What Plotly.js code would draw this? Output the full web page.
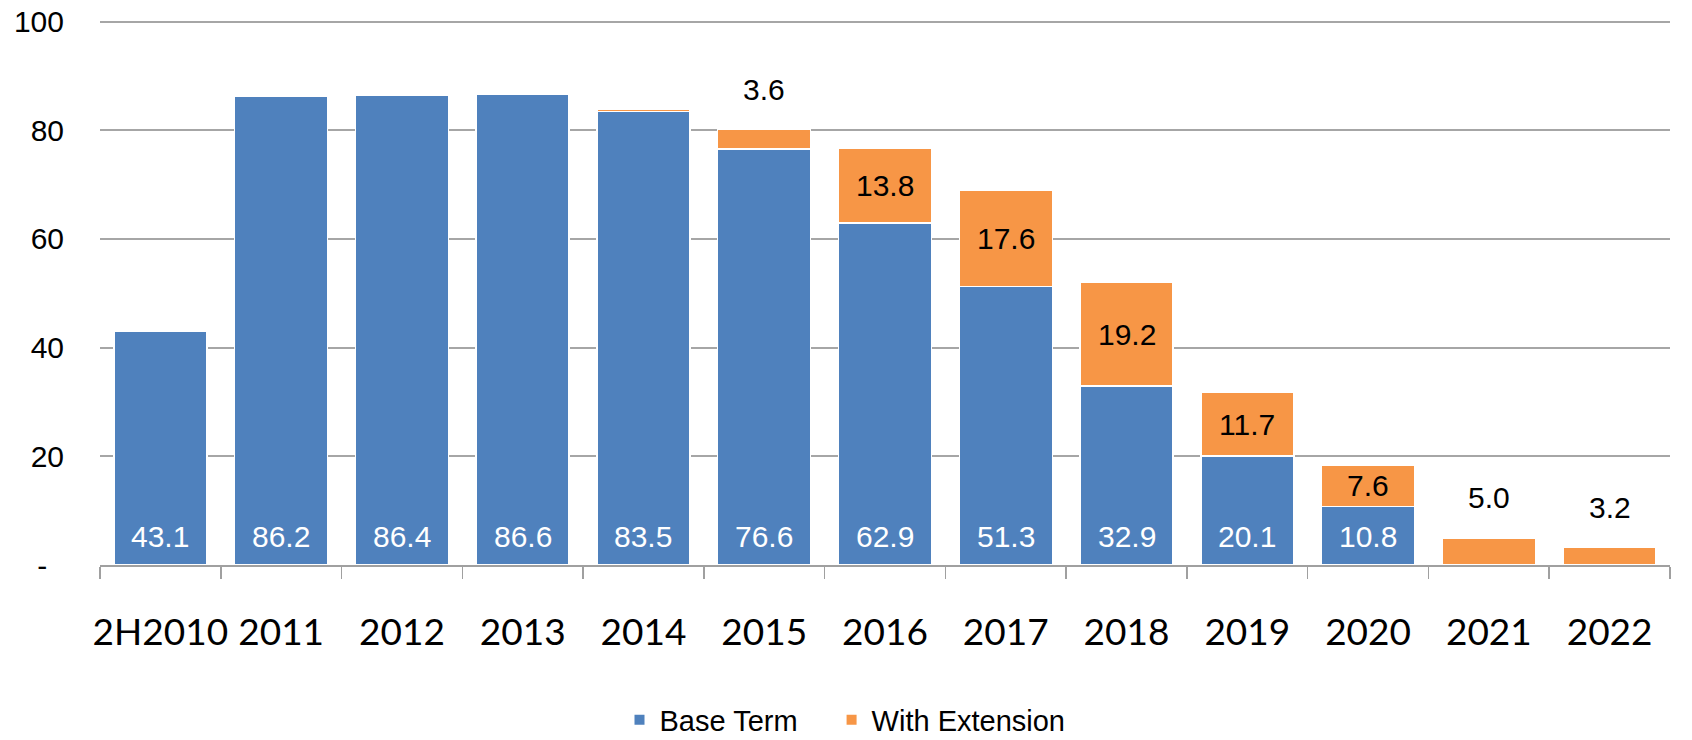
<!DOCTYPE html>
<html>
<head>
<meta charset="utf-8">
<script src="https://cdn.plot.ly/plotly-3.0.1.min.js"></script>
<style>html,body{margin:0;padding:0;background:#fff;}#chart{width:1692px;height:740px;}</style>
</head>
<body>
<div id="chart"></div>
<script>
const categories = ['2H2010','2011','2012','2013','2014','2015','2016','2017','2018','2019','2020','2021','2022'];
const baseTerm = [43.1, 86.2, 86.4, 86.6, 83.5, 76.6, 62.9, 51.3, 32.9, 20.1, 10.8, 0, 0];
const withExtension = [0, 0, 0, 0, 0.3, 3.6, 13.8, 17.6, 19.2, 11.7, 7.6, 5.0, 3.2];
const yTickVals = [0, 20, 40, 60, 80, 100];
const yTickText = ['-\u2007', '20', '40', '60', '80', '100'];
const seriesNames = ['Base Term', 'With Extension'];

const BLUE = '#4F81BD', ORANGE = '#F79646';
const labelFont = {family: 'Liberation Sans, Arial, sans-serif', size: 30};

const traces = [
  {type: 'bar', name: seriesNames[0] + '\u2003', x: categories, y: baseTerm,
   marker: {color: BLUE, line: {color: '#ffffff', width: 1.5}}, hoverinfo: 'x+y'},
  {type: 'bar', name: seriesNames[1], x: categories, y: withExtension,
   marker: {color: ORANGE, line: {color: '#ffffff', width: 1.5}}, hoverinfo: 'x+y'}
];

const annotations = [];
categories.forEach((c, i) => {
  if (baseTerm[i] > 0) {
    annotations.push({x: i, y: 0, xref: 'x', yref: 'y', text: baseTerm[i].toFixed(1),
      showarrow: false, yanchor: 'middle', yshift: 29,
      font: Object.assign({}, labelFont, {color: '#ffffff'})});
  }
  const e = withExtension[i];
  if (e >= 1) {
    const inside = e >= 7;
    annotations.push({x: i, xref: 'x', yref: 'y',
      y: inside ? baseTerm[i] + e / 2 : baseTerm[i] + e,
      yshift: inside ? 0 : 40, yanchor: 'middle',
      text: e.toFixed(1), showarrow: false,
      font: Object.assign({}, labelFont, {color: '#000000'})});
  }
});

const layout = {
  width: 1692, height: 740,
  margin: {l: 100, r: 22, t: 20, b: 175, autoexpand: false},
  paper_bgcolor: '#ffffff', plot_bgcolor: '#ffffff',
  barmode: 'stack', bargap: 0.23,
  showlegend: true,
  legend: {orientation: 'h', xref: 'container', yref: 'container',
    x: 845 / 1692, xanchor: 'center', y: 1 - 720 / 740, yanchor: 'middle',
    font: {family: 'Liberation Sans, Arial, sans-serif', size: 29, color: '#000'},
    itemsizing: 'constant', traceorder: 'normal'},
  xaxis: {type: 'category', range: [-0.5, 12.5], autorange: false, showgrid: false,
    showline: true, linecolor: '#A0A0A0', linewidth: 2,
    ticks: 'outside', tickson: 'boundaries', ticklen: 12, tickcolor: '#A0A0A0', tickwidth: 1.5,
    ticklabelstandoff: 34, tickangle: 0,
    tickfont: {family: 'Lato, Carlito, Calibri, sans-serif', size: 37, color: '#000'}},
  yaxis: {range: [0, 100.3], autorange: false, tickvals: yTickVals, ticktext: yTickText, showgrid: true,
    gridcolor: '#A6A6A6', gridwidth: 2, zeroline: false, showline: false, ticks: '',
    ticklabelstandoff: 35,
    tickfont: {family: 'Liberation Sans, Arial, sans-serif', size: 30, color: '#000'}},
  annotations: annotations
};

Plotly.newPlot('chart', traces, layout, {displayModeBar: false, staticPlot: true});
</script>
</body>
</html>
